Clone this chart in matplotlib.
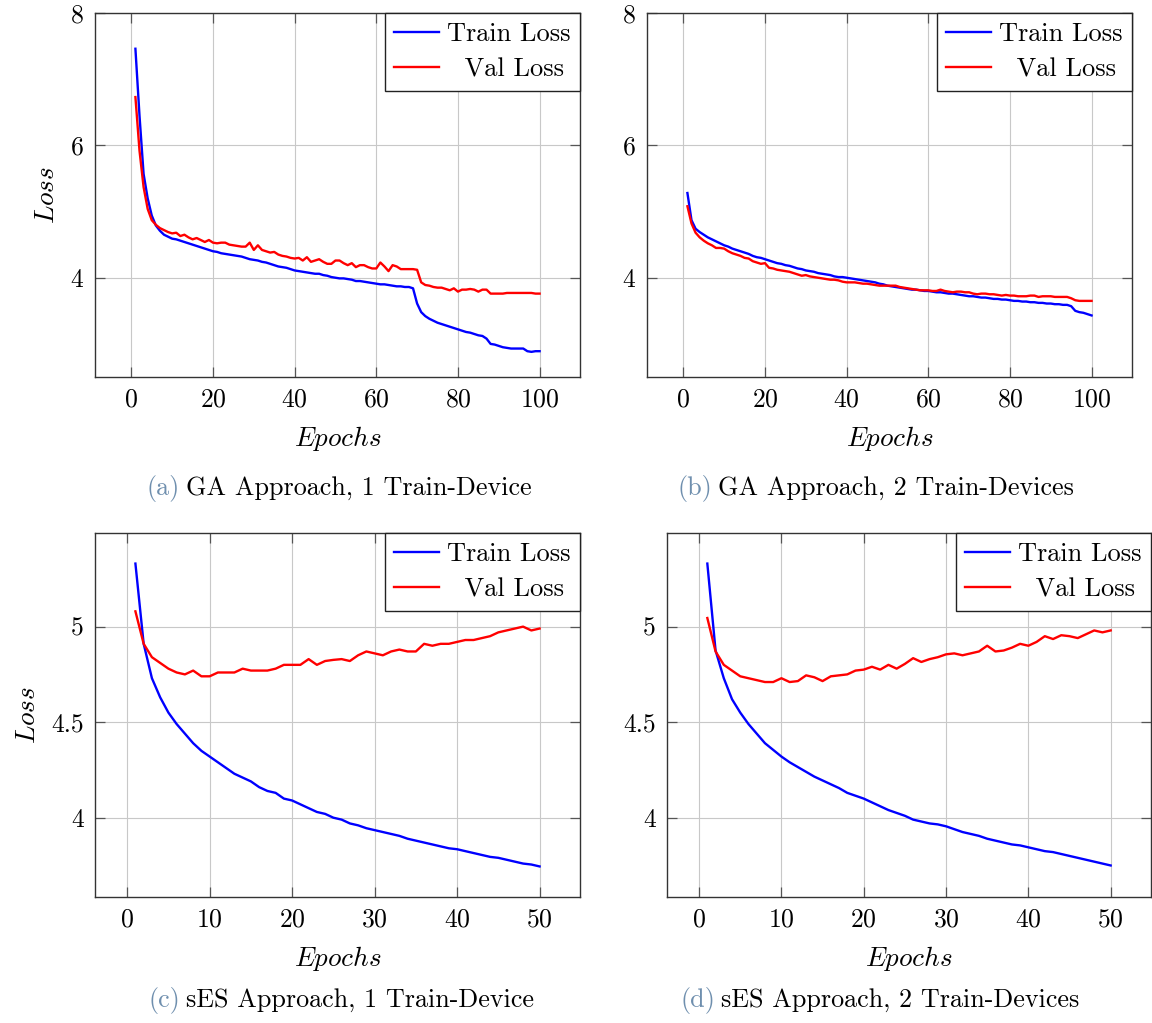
import numpy as np
import matplotlib
matplotlib.use("Agg")
import matplotlib.pyplot as plt

# ---------------------------------------------------------------------------
# data
# ---------------------------------------------------------------------------
epochs_100 = np.arange(1, 101)
epochs_50 = np.arange(1, 51)

ga1_train = [
    7.46, 6.45, 5.57, 5.20, 4.94, 4.79, 4.71, 4.65, 4.62, 4.59,
    4.58, 4.56, 4.54, 4.52, 4.50, 4.48, 4.46, 4.44, 4.42, 4.40,
    4.39, 4.37, 4.36, 4.35, 4.34, 4.33, 4.32, 4.30, 4.28, 4.27,
    4.26, 4.24, 4.23, 4.21, 4.19, 4.17, 4.16, 4.15, 4.13, 4.11,
    4.10, 4.09, 4.08, 4.07, 4.06, 4.06, 4.04, 4.03, 4.01, 4.00,
    3.99, 3.99, 3.98, 3.97, 3.95, 3.95, 3.94, 3.93, 3.92, 3.91,
    3.90, 3.90, 3.89, 3.88, 3.87, 3.87, 3.86, 3.86, 3.84, 3.61,
    3.48, 3.42, 3.38, 3.35, 3.32, 3.30, 3.28, 3.26, 3.24, 3.22,
    3.20, 3.18, 3.17, 3.15, 3.13, 3.12, 3.08, 3.00, 2.99, 2.97,
    2.95, 2.94, 2.93, 2.93, 2.93, 2.93, 2.89, 2.88, 2.89, 2.89,
]
ga1_val = [
    6.73, 5.92, 5.37, 5.04, 4.87, 4.80, 4.75, 4.72, 4.69, 4.67,
    4.68, 4.63, 4.65, 4.61, 4.58, 4.60, 4.57, 4.54, 4.57, 4.53,
    4.52, 4.53, 4.53, 4.50, 4.49, 4.48, 4.47, 4.47, 4.53, 4.42,
    4.49, 4.42, 4.40, 4.38, 4.39, 4.35, 4.33, 4.32, 4.30, 4.29,
    4.30, 4.26, 4.31, 4.24, 4.26, 4.28, 4.24, 4.21, 4.21, 4.26,
    4.26, 4.22, 4.19, 4.22, 4.16, 4.19, 4.19, 4.16, 4.14, 4.14,
    4.23, 4.17, 4.10, 4.19, 4.17, 4.13, 4.13, 4.13, 4.13, 4.12,
    3.93, 3.89, 3.88, 3.86, 3.85, 3.85, 3.83, 3.81, 3.84, 3.79,
    3.82, 3.82, 3.83, 3.82, 3.79, 3.82, 3.82, 3.76, 3.76, 3.76,
    3.76, 3.77, 3.77, 3.77, 3.77, 3.77, 3.77, 3.77, 3.76, 3.76,
]

ga2_train = [
    5.28, 4.87, 4.74, 4.69, 4.65, 4.61, 4.58, 4.55, 4.52, 4.49,
    4.47, 4.44, 4.42, 4.40, 4.38, 4.36, 4.33, 4.31, 4.30, 4.28,
    4.26, 4.24, 4.22, 4.21, 4.19, 4.18, 4.16, 4.14, 4.13, 4.11,
    4.10, 4.09, 4.07, 4.06, 4.05, 4.04, 4.02, 4.01, 4.01, 4.00,
    3.99, 3.98, 3.97, 3.96, 3.95, 3.94, 3.93, 3.91, 3.90, 3.88,
    3.87, 3.86, 3.85, 3.84, 3.83, 3.82, 3.82, 3.81, 3.80, 3.80,
    3.79, 3.78, 3.78, 3.77, 3.76, 3.76, 3.75, 3.74, 3.73, 3.72,
    3.72, 3.71, 3.70, 3.70, 3.69, 3.68, 3.68, 3.67, 3.67, 3.66,
    3.65, 3.65, 3.64, 3.64, 3.63, 3.63, 3.62, 3.62, 3.61, 3.61,
    3.60, 3.60, 3.59, 3.59, 3.57, 3.50, 3.48, 3.47, 3.45, 3.43,
]
ga2_val = [
    5.08, 4.82, 4.68, 4.61, 4.56, 4.52, 4.49, 4.45, 4.45, 4.44,
    4.40, 4.37, 4.35, 4.33, 4.30, 4.29, 4.25, 4.23, 4.21, 4.22,
    4.15, 4.14, 4.12, 4.11, 4.10, 4.09, 4.07, 4.05, 4.03, 4.04,
    4.02, 4.01, 4.00, 3.99, 3.98, 3.97, 3.97, 3.96, 3.94, 3.93,
    3.93, 3.93, 3.92, 3.91, 3.91, 3.90, 3.89, 3.88, 3.88, 3.88,
    3.88, 3.88, 3.86, 3.85, 3.84, 3.83, 3.82, 3.81, 3.81, 3.81,
    3.80, 3.80, 3.82, 3.80, 3.79, 3.78, 3.79, 3.79, 3.78, 3.78,
    3.76, 3.75, 3.76, 3.76, 3.75, 3.75, 3.74, 3.73, 3.74, 3.73,
    3.73, 3.72, 3.72, 3.72, 3.73, 3.73, 3.71, 3.72, 3.72, 3.72,
    3.71, 3.71, 3.71, 3.71, 3.69, 3.66, 3.65, 3.65, 3.65, 3.65,
]

ses1_train = [
    5.33, 4.91, 4.73, 4.63, 4.55, 4.49, 4.44, 4.39, 4.35, 4.32,
    4.29, 4.26, 4.23, 4.21, 4.19, 4.16, 4.14, 4.13, 4.10, 4.09,
    4.07, 4.05, 4.03, 4.02, 4.00, 3.99, 3.97, 3.96, 3.945, 3.935,
    3.925, 3.915, 3.905, 3.89, 3.88, 3.87, 3.86, 3.85, 3.84, 3.835,
    3.825, 3.815, 3.805, 3.795, 3.79, 3.78, 3.77, 3.76, 3.755, 3.745,
]
ses1_val = [
    5.08, 4.91, 4.84, 4.81, 4.78, 4.76, 4.75, 4.77, 4.74, 4.74,
    4.76, 4.76, 4.76, 4.78, 4.77, 4.77, 4.77, 4.78, 4.80, 4.80,
    4.80, 4.83, 4.80, 4.82, 4.826, 4.83, 4.82, 4.85, 4.87, 4.86,
    4.85, 4.87, 4.88, 4.87, 4.87, 4.91, 4.90, 4.91, 4.91, 4.92,
    4.93, 4.93, 4.94, 4.95, 4.97, 4.98, 4.99, 5.00, 4.98, 4.99,
]

ses2_train = [
    5.33, 4.875, 4.73, 4.62, 4.55, 4.49, 4.44, 4.39, 4.355, 4.32,
    4.29, 4.265, 4.24, 4.215, 4.195, 4.175, 4.155, 4.13, 4.115, 4.10,
    4.08, 4.06, 4.04, 4.025, 4.01, 3.99, 3.98, 3.97, 3.965, 3.955,
    3.94, 3.925, 3.915, 3.905, 3.89, 3.88, 3.87, 3.86, 3.855, 3.845,
    3.835, 3.825, 3.82, 3.81, 3.80, 3.79, 3.78, 3.77, 3.76, 3.75,
]
ses2_val = [
    5.045, 4.87, 4.80, 4.77, 4.74, 4.73, 4.72, 4.71, 4.71, 4.73,
    4.71, 4.715, 4.745, 4.735, 4.715, 4.74, 4.745, 4.75, 4.77, 4.775,
    4.79, 4.775, 4.80, 4.78, 4.805, 4.835, 4.815, 4.83, 4.84, 4.855,
    4.86, 4.85, 4.86, 4.87, 4.90, 4.87, 4.875, 4.89, 4.91, 4.90,
    4.92, 4.95, 4.935, 4.955, 4.95, 4.94, 4.96, 4.98, 4.97, 4.98,
]

captions_tag = ["(a)", "(b)", "(c)", "(d)"]
captions_text = [
    "GA Approach, 1 Train-Device",
    "GA Approach, 2 Train-Devices",
    "sES Approach, 1 Train-Device",
    "sES Approach, 2 Train-Devices",
]

# ---------------------------------------------------------------------------
# style (pgfplots look)
# ---------------------------------------------------------------------------
plt.rcParams.update({
    "font.family": "cmr10",
    "mathtext.fontset": "cm",
    "axes.formatter.use_mathtext": True,
    "font.size": 18.5,
})

W, H = 1152, 1023
fig = plt.figure(figsize=(W / 100, H / 100), dpi=100)
fig.patch.set_facecolor("white")


def px_axes(x0, y0, x1, y1):
    # pixel box (top-left origin) -> figure fraction
    return fig.add_axes([x0 / W, 1 - y1 / H, (x1 - x0) / W, (y1 - y0) / H])


panels = [
    (px_axes(95, 13, 580, 377), epochs_100, ga1_train, ga1_val, True),
    (px_axes(647, 13, 1132, 377), epochs_100, ga2_train, ga2_val, False),
    (px_axes(95, 533, 580, 897), epochs_50, ses1_train, ses1_val, True),
    (px_axes(667, 533, 1151, 897), epochs_50, ses2_train, ses2_val, False),
]

for i, (ax, ep, tr, va, ylab) in enumerate(panels):
    ax.plot(ep, tr, color="#0000ff", lw=1.7, label="Train Loss", zorder=3)
    ax.plot(ep, va, color="#ff0000", lw=1.7, label="  Val Loss", zorder=3)

    span = ep[-1] - ep[0]
    ax.set_xlim(ep[0] - 0.1 * span, ep[-1] + 0.1 * span)
    if i < 2:
        ax.set_ylim(2.5, 8)
        ax.set_yticks([4, 6, 8])
        ax.set_xticks(np.arange(0, 101, 20))
    else:
        ax.set_ylim(3.585, 5.49)
        ax.set_yticks([4, 4.5, 5])
        ax.set_yticklabels(["4", "4.5", "5"])
        ax.set_xticks(np.arange(0, 51, 10))

    ax.grid(True, color="#c8c8c8", lw=0.8, zorder=0)
    ax.set_axisbelow(True)
    ax.tick_params(direction="in", top=True, right=True, length=7.5,
                   width=0.9, color="#555555", labelsize=18.5, pad=8)
    for s in ax.spines.values():
        s.set_color("#333333")
        s.set_linewidth(1.0)

    ax.set_xlabel(r"$Epochs$", fontsize=19.5, labelpad=9)
    if ylab:
        ax.set_ylabel(r"$Loss$", fontsize=19.5, labelpad=8)

    leg = ax.legend(loc="upper right", fancybox=False, framealpha=1,
                    edgecolor="#222222", borderaxespad=0, fontsize=19,
                    handlelength=1.7, handletextpad=0.3, borderpad=0.35,
                    labelspacing=0.45)
    leg.get_frame().set_linewidth(1.0)

# captions below each panel
cap_pos = [(180, 488), (712, 488), (180, 1000), (715, 1000)]
for (cx, cy), tag, txt in zip(cap_pos, captions_tag, captions_text):
    fig.text(cx / W, 1 - cy / H, tag, ha="right", va="center",
             fontsize=18.8, color="#6f8fae")
    fig.text((cx + 6) / W, 1 - cy / H, txt, ha="left", va="center",
             fontsize=18.8, color="black")

fig.savefig("out.png", dpi=100, facecolor="white")
